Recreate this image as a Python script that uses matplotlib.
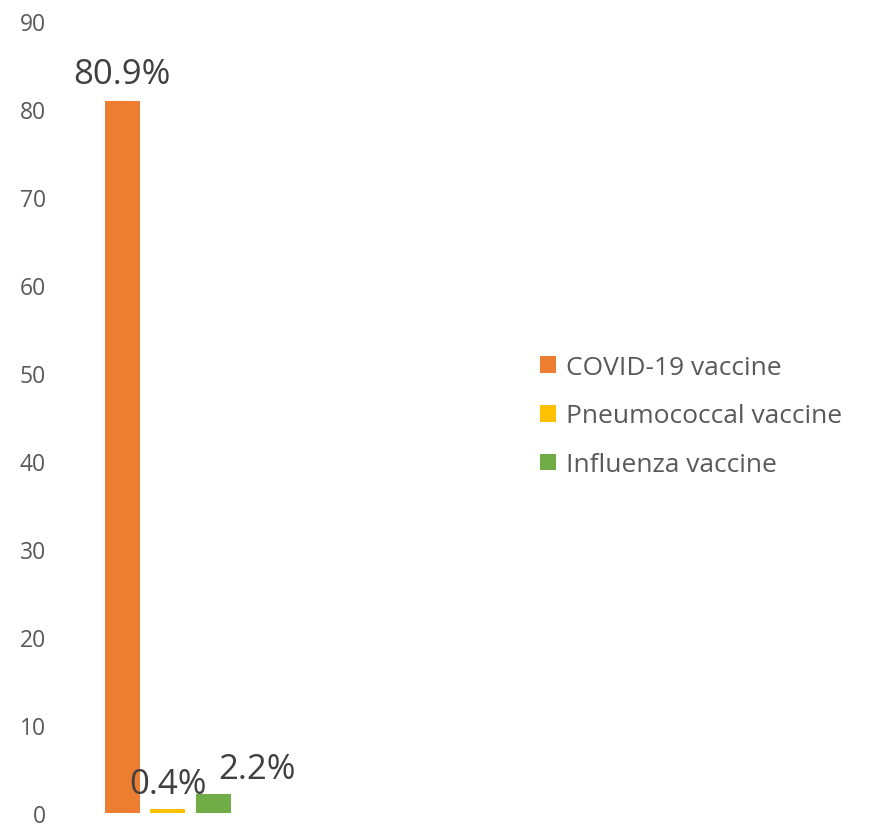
import matplotlib
matplotlib.use("Agg")
import matplotlib.pyplot as plt
from matplotlib.patches import Patch

plt.rcParams['font.family'] = ['Open Sans', 'DejaVu Sans']

series = ["COVID-19 vaccine", "Pneumococcal vaccine", "Influenza vaccine"]
values = [80.9, 0.4, 2.2]
labels = ["80.9%", "0.4%", "2.2%"]
colors = ["#ED7D31", "#FFC000", "#70AD47"]
yticks = [0, 10, 20, 30, 40, 50, 60, 70, 80, 90]

text_color = "#595959"

fig = plt.figure(figsize=(8.71, 8.29), dpi=100)
W, H = 871, 829
ax = fig.add_axes([60 / W, (H - 814) / H, (520 - 60) / W, (814 - 22) / H])

xs = [0, 1, 2]
bars = ax.bar(xs, values, width=0.77, color=colors)

ax.set_ylim(0, 90)
ax.set_xlim(-1.37, 8.74)
ax.set_yticks(yticks)
ax.set_xticks([])
for s in ax.spines.values():
    s.set_visible(False)
ax.tick_params(axis='y', length=0, pad=10, labelsize=16.5, labelcolor=text_color)

# data labels (Excel nudged the green one to the right)
offsets = [(0, 2.0), (0, 1.9), (0.96, 1.8)]
for x, v, lab, (dx, dy) in zip(xs, values, labels, offsets):
    ax.text(x + dx, v + dy, lab, ha='center', va='baseline', fontsize=25, color="#404040")

handles = [Patch(facecolor=c, edgecolor='none') for c in colors]
fig.legend(handles, series, loc='center left', bbox_to_anchor=(540 / W, (H - 417) / H),
           frameon=False, fontsize=19, labelcolor=text_color, handlelength=0.6,
           handleheight=0.6, handletextpad=0.38, labelspacing=0.9,
           borderpad=0, borderaxespad=0)

fig.savefig("out.png", dpi=100)
